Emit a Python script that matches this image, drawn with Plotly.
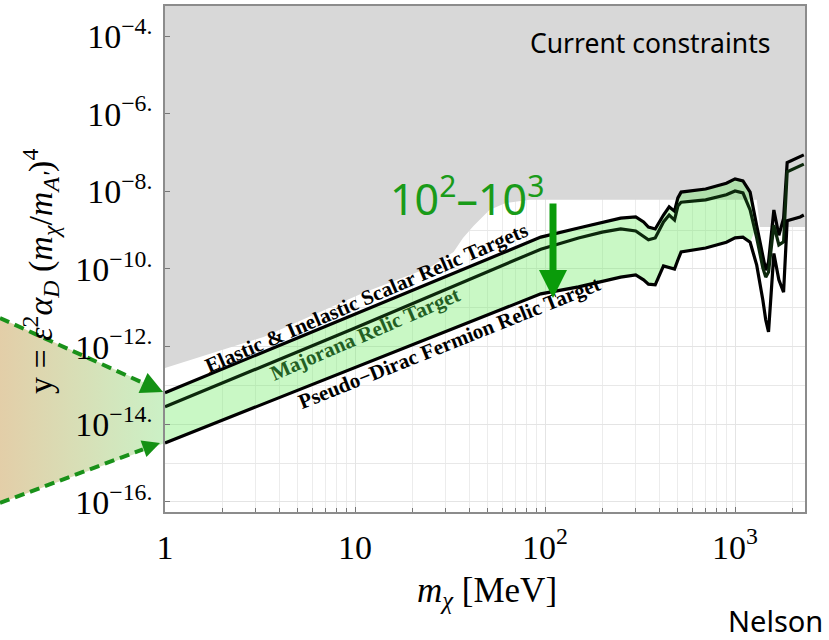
import numpy as np
import plotly.graph_objects as go

# ---------------- data ----------------
mass_mev = [1, 10, 95, 150, 200, 250, 300, 330, 350, 380, 420, 450, 480, 500, 520,
            700, 900, 1000, 1100, 1200, 1300, 1400, 1450, 1500, 1600, 1700, 1800,
            1880, 2200, 2300]
# log10(y) of the three relic-target curves
scalar_exp = [-13.19, -11.165, -9.18, -8.945, -8.79, -8.69, -8.66, -8.79, -8.92, -8.97,
              -8.61, -8.40, -8.51, -8.17, -8.02, -7.94, -7.79, -7.68, -7.73, -8.02,
              -8.89, -9.72, -10.03, -9.82, -8.48, -9.13, -8.70, -7.26, -7.12, -7.06]
majorana_exp = [-13.55, -11.52, -9.49, -9.20, -9.05, -8.97, -9.02, -9.15, -9.25, -9.20,
                -8.79, -8.61, -8.74, -8.38, -8.28, -8.22, -8.09, -7.99, -8.04, -8.48,
                -9.20, -9.97, -10.21, -10.08, -8.87, -9.38, -9.30, -7.50, -7.35, -7.30]
pseudo_dirac_exp = [-14.48, -12.54, -10.64, -10.46, -10.31, -10.21, -10.155, -10.28, -10.39,
                    -10.41, -9.92, -9.97, -10.00, -9.77, -9.56, -9.46, -9.31, -9.20, -9.18,
                    -9.31, -9.90, -10.80, -11.31, -11.62, -9.60, -10.28, -10.60, -8.76,
                    -8.66, -8.61]
# lower edge of the "current constraints" region
constraint_mass = [1, 3.3, 11, 25, 33, 37, 42, 51, 62, 83, 1300, 1350, 2400]
constraint_exp = [-12.55, -11.75, -10.62, -9.95, -9.56, -9.20, -8.89, -8.48, -8.30, -8.22,
                  -8.22, -8.92, -8.92]

x_tick_vals = [1, 10, 100, 1000]
x_tick_text = ["1", "10", "10<sup>2</sup>", "10<sup>3</sup>"]
y_tick_exps = [-16, -14, -12, -10, -8, -6, -4]
x_minor_vals = [m * 10 ** d for d in range(0, 4) for m in range(2, 10) if m * 10 ** d < 2400]

scalar_y = [10 ** v for v in scalar_exp]
majorana_y = [10 ** v for v in majorana_exp]
pseudo_y = [10 ** v for v in pseudo_dirac_exp]
constraint_y = [10 ** v for v in constraint_exp]

# ---------------- geometry ----------------
W, H = 829, 640
ML, MR, MT, MB = 0, 24, 6, 128
PW, PH = W - ML - MR, H - MT - MB
X0 = 165  # left edge of the main panel (px)


def pxx(x):
    return x / PW


def pxy(y):
    return (H - MB - y) / PH


SERIF = "Liberation Serif"
SANS = "Noto Sans"

fig = go.Figure()

# ---- decorative gradient wedge at the left (own hidden axes in pixel units) ----
fig.add_trace(go.Scatter(
    x=[0, 165, 165, 0], y=[318, 392, 443, 503], mode="lines", fill="toself",
    line=dict(width=0), fillcolor="rgb(215,224,184)",
    fillgradient=dict(type="horizontal",
                      colorscale=[[0, "rgb(227,206,168)"], [1, "rgb(203,241,198)"]]),
    xaxis="x", yaxis="y", hoverinfo="skip", showlegend=False))
for xs, ys in (([0, 145], [318, 383.8]), ([0, 143], [503, 449.4])):
    fig.add_trace(go.Scatter(
        x=xs, y=ys, mode="lines", line=dict(color="rgb(25,145,25)", width=4, dash="10px,6px"),
        xaxis="x", yaxis="y", hoverinfo="skip", showlegend=False))

# ---- main chart ----
fig.add_trace(go.Scatter(
    x=constraint_mass + [2400, 1], y=constraint_y + [1e-3, 1e-3], mode="lines",
    fill="toself", fillcolor="rgb(216,216,216)", line=dict(width=0),
    xaxis="x2", yaxis="y2", hoverinfo="skip", showlegend=False))

n_top, n_bot = 21, 20
fig.add_trace(go.Scatter(
    x=mass_mev[:n_top] + mass_mev[:n_bot][::-1],
    y=scalar_y[:n_top] + pseudo_y[:n_bot][::-1], mode="lines", fill="toself",
    fillcolor="rgba(105,235,95,0.36)", line=dict(width=0),
    xaxis="x2", yaxis="y2", hoverinfo="skip", showlegend=False))

for yy, col in ((scalar_y, "black"), (majorana_y, "rgb(12,40,12)"), (pseudo_y, "black")):
    fig.add_trace(go.Scatter(
        x=mass_mev, y=yy, mode="lines", line=dict(color=col, width=3.2),
        xaxis="x2", yaxis="y2", showlegend=False))

axis_common = dict(showline=True, mirror=True, linecolor="#8c8c8c", linewidth=1.5,
                   ticks="inside", ticklen=5, tickcolor="#777", automargin=False,
                   tickfont=dict(family=SERIF, size=34, color="black"), zeroline=False)

fig.update_layout(
    width=W, height=H, template="none",
    margin=dict(l=ML, r=MR, t=MT, b=MB, pad=0),
    paper_bgcolor="white", plot_bgcolor="white",
    font=dict(family=SERIF, color="black"),
    showlegend=False,
    xaxis=dict(domain=[0, X0 / PW], range=[0, 165], visible=False, anchor="y",
               fixedrange=True),
    yaxis=dict(domain=[0, 1], range=[512, 6], visible=False, anchor="x", fixedrange=True),
    xaxis2=dict(type="log", domain=[X0 / PW, 1], range=[0, 3.368], anchor="y2",
                tickvals=x_tick_vals, ticktext=x_tick_text, showgrid=True,
                gridcolor="#e4e4e4", gridwidth=1,
                minor=dict(tickvals=x_minor_vals, ticks="inside", ticklen=4,
                           tickcolor="#777", showgrid=True, gridcolor="#ececec"),
                ticklabelstandoff=4, **axis_common),
    yaxis2=dict(type="log", domain=[0, 1], range=[-16.259, -3.227], anchor="x2",
                tickvals=[10.0 ** e for e in y_tick_exps],
                ticktext=["10<sup>−%d.</sup>" % (-e) for e in y_tick_exps],
                showgrid=True, gridcolor="#e4e4e4",
                minor=dict(tickvals=[10.0 ** e for e in range(-15, -3, 2)], ticks="",
                           showgrid=True, gridcolor="#e8e8e8"),
                ticklabelstandoff=4, **axis_common),
)


def label(x, y, text, size, family=SERIF, color="black", angle=0):
    return dict(x=pxx(x), y=pxy(y), xref="paper", yref="paper", showarrow=False,
                xanchor="center", yanchor="middle", text=text, textangle=angle,
                font=dict(family=family, size=size, color=color))


def arrow(x, y, ax, ay, width, size, color):
    return dict(x=pxx(x), y=pxy(y), xref="paper", yref="paper", showarrow=True,
                text="", ax=ax, ay=ay, axref="pixel", ayref="pixel", arrowhead=2,
                arrowwidth=width, arrowsize=size, arrowcolor=color)


ann = [
    label(40, 272, "y = <i>ε</i><sup>2</sup><i>α</i><sub><i>D</i></sub> (<i>m</i><sub><i>χ</i></sub>/<i>m</i><sub><i>A'</i></sub>)<sup>4</sup>",
          34, angle=-90),
    label(487, 592, "<i>m</i><sub><i>χ</i></sub> [MeV]", 35),
    label(366, 298, "<b>Elastic & Inelastic Scalar Relic Targets</b>", 21, angle=-23.3),
    label(365, 334, "<b>Majorana Relic Target</b>", 21, color="rgb(35,95,35)", angle=-23.4),
    label(449, 343, "<b>Pseudo−Dirac Fermion Relic Target</b>", 21, angle=-21.8),
    label(650, 43, "Current constraints", 26.5, family=SANS),
    label(775, 620, "Nelson", 29, family=SANS),
    label(467, 196, "10<sup>2</sup>–10<sup>3</sup>", 43, family=SANS, color="rgb(25,155,25)"),
    arrow(553, 298, 0, -96, 7, 0.8, "rgb(10,155,10)"),
    arrow(163, 392, -20, -9, 3.5, 1.25, "rgb(20,145,20)"),
    arrow(160, 443, -17, 6, 3.5, 1.0, "rgb(20,145,20)"),
]
fig.update_layout(annotations=ann)

fig.write_html("out.html", config={"displayModeBar": False},
               post_script="document.body.style.margin='0';document.body.style.padding='0';")
